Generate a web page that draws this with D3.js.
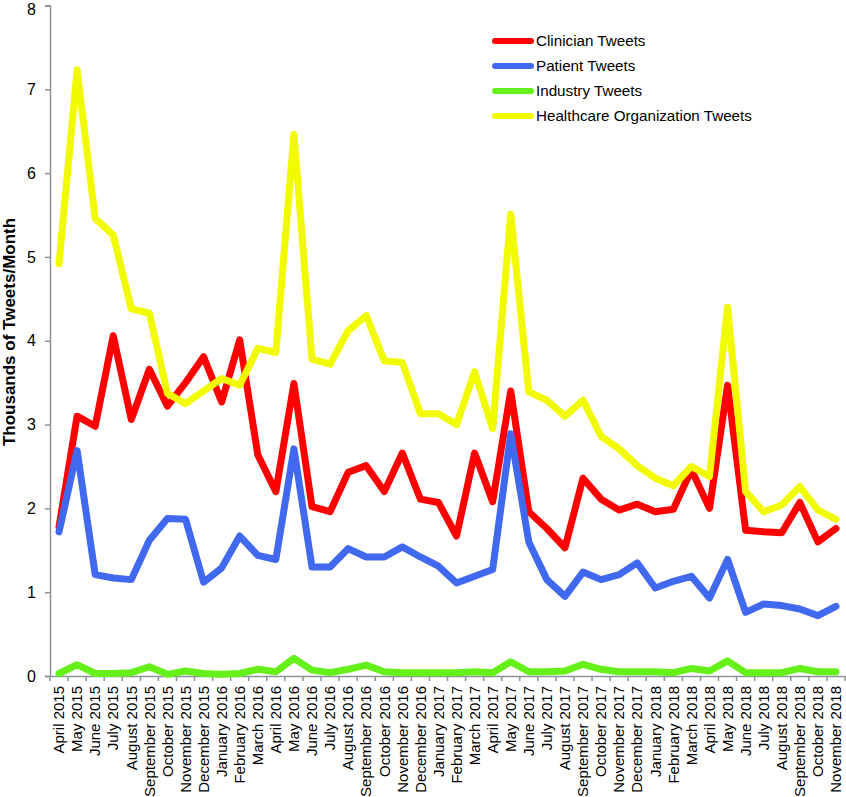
<!DOCTYPE html>
<html>
<head>
<meta charset="utf-8">
<script src="https://cdn.jsdelivr.net/npm/d3@7"></script>
<style>
  html, body { margin: 0; padding: 0; background: #fff; }
  svg { display: block; font-family: "Liberation Sans", Arial, sans-serif; }
</style>
</head>
<body>
<svg id="chart" width="846" height="797"></svg>
<script>
const months = [
  "April 2015","May 2015","June 2015","July 2015","August 2015","September 2015","October 2015","November 2015","December 2015",
  "January 2016","February 2016","March 2016","April 2016","May 2016","June 2016","July 2016","August 2016","September 2016","October 2016","November 2016","December 2016",
  "January 2017","February 2017","March 2017","April 2017","May 2017","June 2017","July 2017","August 2017","September 2017","October 2017","November 2017","December 2017",
  "January 2018","February 2018","March 2018","April 2018","May 2018","June 2018","July 2018","August 2018","September 2018","October 2018","November 2018"
];

const clinician = [1.78,3.10,2.98,4.06,3.06,3.66,3.22,3.50,3.81,3.27,4.01,2.64,2.20,3.49,2.02,1.96,2.43,2.51,2.20,2.66,2.11,2.07,1.67,2.66,2.08,3.40,1.96,1.76,1.53,2.36,2.11,1.98,2.05,1.96,1.99,2.46,2.00,3.47,1.74,1.72,1.71,2.07,1.60,1.76];
const patient   = [1.72,2.69,1.21,1.17,1.15,1.62,1.88,1.87,1.12,1.29,1.67,1.44,1.39,2.71,1.30,1.30,1.52,1.42,1.42,1.54,1.42,1.31,1.11,1.19,1.27,2.89,1.60,1.15,0.95,1.24,1.15,1.21,1.35,1.05,1.13,1.19,0.93,1.39,0.76,0.86,0.84,0.80,0.72,0.83];
const industry  = [0.03,0.135,0.03,0.03,0.04,0.11,0.02,0.06,0.03,0.02,0.03,0.08,0.05,0.21,0.07,0.04,0.08,0.13,0.05,0.04,0.04,0.04,0.04,0.05,0.04,0.17,0.05,0.05,0.06,0.14,0.08,0.05,0.05,0.05,0.04,0.09,0.06,0.18,0.04,0.04,0.04,0.09,0.05,0.05];
const healthcare= [4.92,7.23,5.46,5.26,4.38,4.33,3.37,3.25,3.40,3.55,3.47,3.91,3.86,6.46,3.78,3.72,4.12,4.30,3.76,3.74,3.13,3.13,3.00,3.63,2.95,5.51,3.39,3.29,3.10,3.29,2.86,2.71,2.51,2.36,2.27,2.50,2.38,4.40,2.20,1.96,2.04,2.26,1.98,1.87];

const seriesNames = ["Clinician Tweets","Patient Tweets","Industry Tweets","Healthcare Organization Tweets"];
const seriesValues = [clinician, patient, industry, healthcare];
const seriesColors = ["#ff0000","#4169f0","#66f01a","#f2fa00"];
const yTicks = [0,1,2,3,4,5,6,7,8];

const svg = d3.select("#chart");
const axisColor = "#8a9396";

const x = d3.scaleBand().domain(months).range([50, 845]).padding(0);
const y = d3.scaleLinear().domain([0, 8]).range([676, 5.5]);
const cx = d => x(d) + x.bandwidth() / 2;

// Y axis
const yAxis = svg.append("g").attr("transform", "translate(50,0)")
  .call(d3.axisLeft(y).tickValues(yTicks).tickFormat(d3.format("d")).tickSize(5).tickPadding(9));
yAxis.select(".domain").attr("stroke", axisColor).attr("stroke-width", 1.5);
yAxis.selectAll(".tick line").attr("stroke", axisColor).attr("stroke-width", 1.5);
yAxis.selectAll(".tick text").attr("font-size", 16).attr("fill", "#000")
  .attr("font-family", "Liberation Sans, Arial, sans-serif");
yAxis.selectAll(".tick text").filter(d => d === 8).attr("dy", "0.55em");

// X axis
const xAxis = svg.append("g").attr("transform", "translate(0,676)")
  .call(d3.axisBottom(x).tickSize(0).tickPadding(0));
xAxis.select(".domain").attr("stroke", axisColor).attr("stroke-width", 1.5);
xAxis.selectAll(".tick line").remove();
// boundary ticks between categories
const bounds = months.map(m => x(m)).concat([x(months[months.length - 1]) + x.bandwidth()]);
xAxis.selectAll("line.bt").data(bounds).enter().append("line")
  .attr("class", "bt").attr("x1", d => d).attr("x2", d => d)
  .attr("y1", 0).attr("y2", 5).attr("stroke", axisColor).attr("stroke-width", 1.5);
xAxis.selectAll(".tick text")
  .attr("font-size", 15).attr("fill", "#000")
  .attr("font-family", "Liberation Sans, Arial, sans-serif")
  .attr("text-anchor", "end")
  .attr("dy", "0.35em")
  .attr("transform", "translate(0,10) rotate(-90)")
  .attr("x", 0).attr("y", 0);

// Y title
svg.append("text")
  .attr("transform", "translate(15,332) rotate(-90)")
  .attr("text-anchor", "middle")
  .attr("font-size", 17).attr("font-weight", "bold")
  .attr("font-family", "Liberation Sans, Arial, sans-serif")
  .text("Thousands of Tweets/Month");

// Lines
const line = d3.line().x((d, i) => cx(months[i])).y(d => y(d));
seriesValues.forEach((vals, k) => {
  svg.append("path").datum(vals)
    .attr("d", line)
    .attr("fill", "none")
    .attr("stroke", seriesColors[k])
    .attr("stroke-width", 7)
    .attr("stroke-linejoin", "round")
    .attr("stroke-linecap", "round");
});

// Legend
const legend = svg.append("g").attr("transform", "translate(493,41)");
seriesNames.forEach((name, k) => {
  const g = legend.append("g").attr("transform", `translate(0,${k * 25})`);
  g.append("line").attr("x1", 2).attr("x2", 38).attr("y1", 0).attr("y2", 0)
    .attr("stroke", seriesColors[k]).attr("stroke-width", 6).attr("stroke-linecap", "round");
  g.append("text").attr("x", 43).attr("y", 0).attr("dy", "0.35em")
    .attr("font-size", 15.2).attr("fill", "#000")
    .attr("font-family", "Liberation Sans, Arial, sans-serif")
    .text(name);
});
</script>
</body>
</html>
